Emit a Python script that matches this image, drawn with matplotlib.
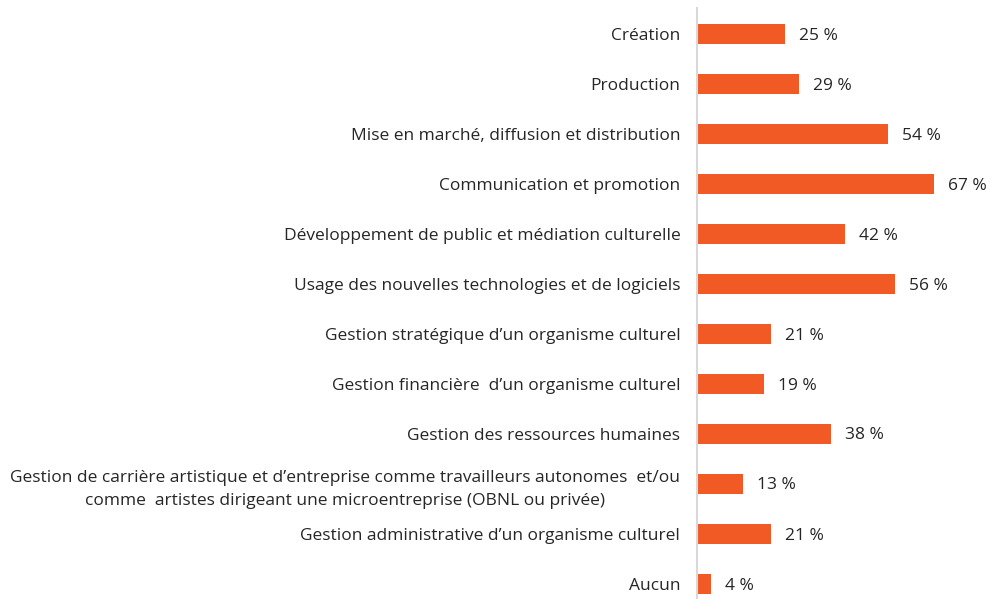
import matplotlib.pyplot as plt

categories = [
    "Création",
    "Production",
    "Mise en marché, diffusion et distribution",
    "Communication et promotion",
    "Développement de public et médiation culturelle",
    "Usage des nouvelles technologies et de logiciels",
    "Gestion stratégique d’un organisme culturel",
    "Gestion financière  d’un organisme culturel",
    "Gestion des ressources humaines",
    "Gestion de carrière artistique et d’entreprise comme travailleurs autonomes  et/ou\ncomme  artistes dirigeant une microentreprise (OBNL ou privée)",
    "Gestion administrative d’un organisme culturel",
    "Aucun",
]
values = [25, 29, 54, 67, 42, 56, 21, 19, 38, 13, 21, 4]

plt.rcParams['font.family'] = ['Open Sans', 'DejaVu Sans']

bar_color = '#F15A24'
text_color = '#262626'

fig = plt.figure(figsize=(9.9, 5.99), dpi=100)
ax = fig.add_axes([697 / 990, 0, 1 - 697 / 990, 1 - 8 / 599])

pos = list(range(len(categories)))
ax.barh(pos, values, height=0.4, color=bar_color)
ax.set_xlim(0, 83)
ax.set_ylim(11.3, -0.52)

for y, v in zip(pos, values):
    ax.text(v + 4, y + 0.03, f"{v} %", va='center', ha='left', fontsize=12.5, color=text_color)

ax.set_yticks(pos)
ax.set_yticklabels(categories, fontsize=12.5, color=text_color, ha='right',
                   multialignment='center', linespacing=1.55)
ax.tick_params(axis='y', length=0, pad=12)
ax.set_xticks([])

for s in ['top', 'right', 'bottom']:
    ax.spines[s].set_visible(False)
ax.spines['left'].set_color('#D9D9D9')
ax.spines['left'].set_linewidth(1.5)

fig.savefig('out.png', dpi=100)
